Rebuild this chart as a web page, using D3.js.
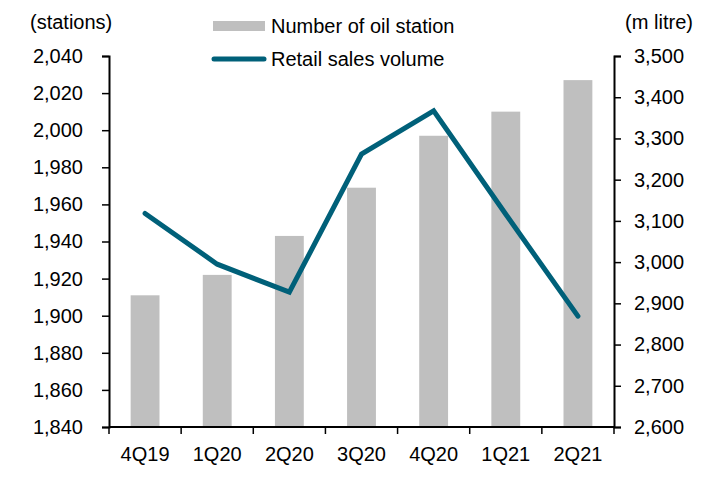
<!DOCTYPE html>
<html>
<head>
<meta charset="utf-8">
<script src="https://cdn.jsdelivr.net/npm/d3@7"></script>
<style>
  html, body { margin: 0; padding: 0; background: #fff; }
  svg { display: block; font-family: "Liberation Sans", Arial, sans-serif; }
</style>
</head>
<body>
<svg id="chart" width="711" height="477"></svg>
<script>
// Quarterly data
const quarters = ["4Q19", "1Q20", "2Q20", "3Q20", "4Q20", "1Q21", "2Q21"];
const stations = [1911, 1922, 1943, 1969, 1997, 2010, 2027];
const salesVolume = [3118, 2995, 2927, 3262, 3367, 3116, 2869];
const leftTicks = [1840, 1860, 1880, 1900, 1920, 1940, 1960, 1980, 2000, 2020, 2040];
const rightTicks = [2600, 2700, 2800, 2900, 3000, 3100, 3200, 3300, 3400, 3500];

const svg = d3.select("#chart");
const plotLeft = 109, plotRight = 614, plotTop = 56, plotBottom = 427;
const barColor = "#bfbfbf", lineColor = "#006079";
const fontSize = 20, textColor = "#000";

const x = d3.scaleBand().domain(quarters).range([plotLeft, plotRight]).paddingInner(0).paddingOuter(0);
const yL = d3.scaleLinear().domain([1840, 2040]).range([plotBottom, plotTop]);
const yR = d3.scaleLinear().domain([2600, 3500]).range([plotBottom, plotTop]);
const fmt = d3.format(",");

// Bars: number of oil stations
const barW = x.bandwidth() * 0.4;
svg.append("g").selectAll("rect").data(quarters).join("rect")
  .attr("x", d => x(d) + x.bandwidth() / 2 - barW / 2)
  .attr("y", (d, i) => yL(stations[i]))
  .attr("width", barW)
  .attr("height", (d, i) => yL(1840) - yL(stations[i]))
  .attr("fill", barColor);

// Line: retail sales volume
const line = d3.line()
  .x((d, i) => x(quarters[i]) + x.bandwidth() / 2)
  .y(d => yR(d));
svg.append("path").datum(salesVolume)
  .attr("d", line)
  .attr("fill", "none")
  .attr("stroke", lineColor)
  .attr("stroke-width", 5)
  .attr("stroke-linejoin", "miter")
  .attr("stroke-linecap", "round");

// Axes
function styleAxis(g) {
  g.selectAll(".domain").attr("stroke", "#000").attr("stroke-width", 2);
  g.selectAll(".tick line").attr("stroke", "#000").attr("stroke-width", 1.5);
  g.selectAll(".tick text").attr("font-size", fontSize).attr("fill", textColor)
    .attr("font-family", "'Liberation Sans', Arial, sans-serif");
}

const gL = svg.append("g").attr("transform", `translate(${plotLeft},0)`)
  .call(d3.axisLeft(yL).tickValues(leftTicks).tickFormat(fmt).tickSize(7).tickSizeOuter(7).tickPadding(19));
styleAxis(gL);

const gR = svg.append("g").attr("transform", `translate(${plotRight},0)`)
  .call(d3.axisRight(yR).tickValues(rightTicks).tickFormat(fmt).tickSize(7).tickSizeOuter(7).tickPadding(13));
styleAxis(gR);

const gB = svg.append("g").attr("transform", `translate(0,${plotBottom})`)
  .call(d3.axisBottom(x).tickSize(0).tickPadding(20));
styleAxis(gB);
gB.select(".domain").remove();
svg.append("line").attr("x1", plotLeft).attr("x2", plotRight).attr("y1", plotBottom).attr("y2", plotBottom)
  .attr("stroke", "#000").attr("stroke-width", 2);
// category boundary ticks
svg.append("g").selectAll("line").data(d3.range(quarters.length + 1)).join("line")
  .attr("x1", i => plotLeft + i * x.bandwidth())
  .attr("x2", i => plotLeft + i * x.bandwidth())
  .attr("y1", plotBottom).attr("y2", plotBottom + 7)
  .attr("stroke", "#000").attr("stroke-width", 1.5);

// Axis unit labels
svg.append("text").attr("x", 30).attr("y", 29).attr("font-size", fontSize).attr("fill", textColor)
  .text("(stations)");
svg.append("text").attr("x", 625).attr("y", 29).attr("font-size", fontSize).attr("fill", textColor)
  .attr("textLength", 68).attr("lengthAdjust", "spacingAndGlyphs")
  .text("(m litre)");

// Legend
const lg = svg.append("g");
lg.append("rect").attr("x", 213).attr("y", 21).attr("width", 52).attr("height", 10).attr("fill", barColor);
lg.append("text").attr("x", 271).attr("y", 33).attr("font-size", fontSize).attr("fill", textColor)
  .text("Number of oil station");
lg.append("line").attr("x1", 214).attr("x2", 264).attr("y1", 59).attr("y2", 59)
  .attr("stroke", lineColor).attr("stroke-width", 5).attr("stroke-linecap", "round");
lg.append("text").attr("x", 271).attr("y", 66).attr("font-size", fontSize).attr("fill", textColor)
  .text("Retail sales volume");
</script>
</body>
</html>
